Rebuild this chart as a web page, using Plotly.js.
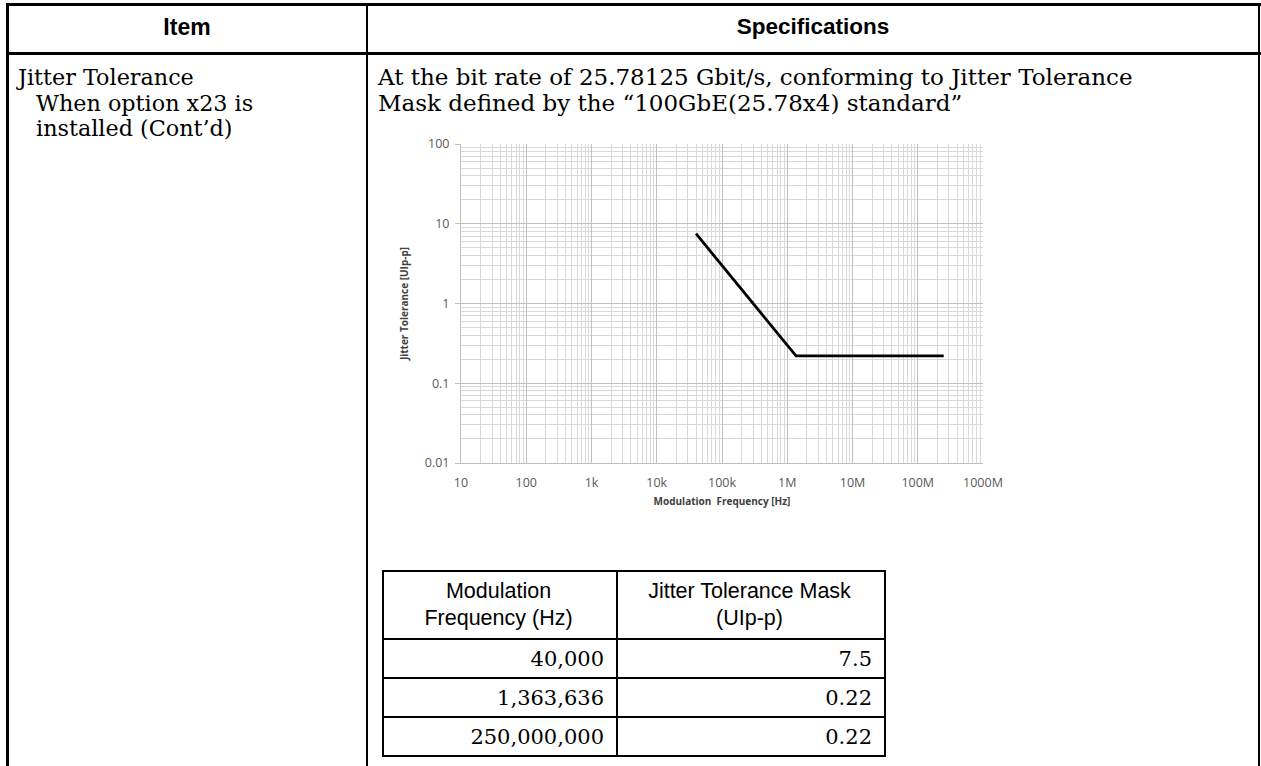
<!DOCTYPE html>
<html>
<head>
<meta charset="utf-8">
<script src="https://cdn.plot.ly/plotly-3.0.1.min.js"></script>
<style>
  html, body { margin:0; padding:0; background:#fff; }
  body { width:1261px; height:766px; position:relative; overflow:hidden; }
  .hl { position:absolute; background:#000; }
  .t { position:absolute; white-space:nowrap; color:#000; line-height:26px; }
  .serif { font-family:"DejaVu Serif", serif; font-size:23px; }
  .sans { font-family:"Liberation Sans", Arial, sans-serif; }
  #chart { position:absolute; left:380px; top:130px; width:660px; height:420px; }
  #mask { position:absolute; left:382px; top:570px; border-collapse:collapse; }
  #mask td { border:2px solid #000; padding:0 12px 0 9px; }
</style>
</head>
<body>
<!-- outer table lines -->
<div class="hl" style="left:6px;top:3px;width:1255px;height:3px"></div>
<div class="hl" style="left:6px;top:52px;width:1255px;height:3px"></div>
<div class="hl" style="left:6px;top:3px;width:3px;height:763px"></div>
<div class="hl" style="left:366px;top:3px;width:2px;height:763px"></div>
<div class="hl" style="left:1258px;top:3px;width:2px;height:763px"></div>

<div class="t sans" style="left:7px;width:360px;top:14px;text-align:center;font-weight:bold;font-size:23px">Item</div>
<div class="t sans" style="left:368px;width:890px;top:14px;text-align:center;font-weight:bold;font-size:22.5px">Specifications</div>

<div class="t serif" style="left:18px;top:64px;font-size:22.3px">Jitter Tolerance</div>
<div class="t serif" style="left:36px;top:90px;font-size:22.3px">When option x23 is</div>
<div class="t serif" style="left:36px;top:115px;font-size:22.3px">installed (Cont’d)</div>

<div class="t serif" style="left:378px;top:64px">At the bit rate of 25.78125 Gbit/s, conforming to Jitter Tolerance</div>
<div class="t serif" style="left:378px;top:90px">Mask defined by the “100GbE(25.78x4) standard”</div>

<div id="chart"></div>
<table id="mask"></table>

<script>
// ---- data ----
var freqHz = [40000, 1363636, 250000000];
var jitterUI = [7.5, 0.22, 0.22];
var xTickVals = [10, 100, 1000, 10000, 100000, 1000000, 10000000, 100000000, 1000000000];
var xTickText = ["10", "100", "1k", "10k", "100k", "1M", "10M", "100M", "1000M"];
var yTickVals = [0.01, 0.1, 1, 10, 100];
var yTickText = ["0.01", "0.1", "1", "10", "100"];
var tableHead = [["Modulation", "Frequency (Hz)"], ["Jitter Tolerance Mask", "(UIp-p)"]];

// minor grid positions (2..9 per decade)
function minors(vals) {
  var out = [];
  for (var i = 0; i < vals.length - 1; i++)
    for (var k = 2; k <= 9; k++) out.push(vals[i] * k);
  return out;
}

var trace = {
  x: freqHz, y: jitterUI, type: 'scatter', mode: 'lines',
  line: { color: '#000', width: 2.8 }, hoverinfo: 'skip'
};

var axisFont = { family: 'Open Sans, sans-serif', size: 12.5, color: '#595959' };
var layout = {
  width: 660, height: 420,
  margin: { l: 81, r: 57, t: 14, b: 87 },
  paper_bgcolor: 'rgba(0,0,0,0)', plot_bgcolor: '#fff',
  showlegend: false,
  xaxis: {
    type: 'log', range: [1, 9],
    tickmode: 'array', tickvals: xTickVals, ticktext: xTickText,
    tickfont: axisFont, ticks: '', ticklabelstandoff: 8, ticklabeloverflow: 'allow',
    showgrid: true, gridcolor: '#c0c0c0', gridwidth: 1,
    minor: { tickmode: 'array', tickvals: minors(xTickVals), showgrid: true, gridcolor: '#d9d9d9', gridwidth: 1, ticks: '' },
    showline: true, linecolor: '#bfbfbf', linewidth: 1, mirror: false, zeroline: false,
    title: { text: '<b>Modulation  Frequency [Hz]</b>', font: { family: 'Open Sans, sans-serif', size: 10, color: '#404040' }, standoff: 7 }
  },
  yaxis: {
    type: 'log', range: [-2, 2],
    tickmode: 'array', tickvals: yTickVals, ticktext: yTickText,
    tickfont: axisFont, ticks: 'outside', ticklen: 5, tickcolor: '#bfbfbf', ticklabelstandoff: 3,
    showgrid: true, gridcolor: '#c0c0c0', gridwidth: 1,
    minor: { tickmode: 'array', tickvals: minors(yTickVals), showgrid: true, gridcolor: '#d9d9d9', gridwidth: 1, ticks: '' },
    showline: true, linecolor: '#bfbfbf', linewidth: 1, zeroline: false,
    title: { text: '<b>Jitter Tolerance [UIp-p]</b>', font: { family: 'Open Sans, sans-serif', size: 10, color: '#404040' }, standoff: 14 }
  }
};
Plotly.newPlot('chart', [trace], layout, { staticPlot: true, displayModeBar: false });

// ---- mask table built from the same arrays ----
var tbl = document.getElementById('mask');
var hr = document.createElement('tr');
tableHead.forEach(function (h, i) {
  var td = document.createElement('td');
  td.innerHTML = h.join('<br>');
  td.style.cssText = 'font-family:"Liberation Sans",Arial,sans-serif;font-size:21.5px;text-align:center;height:66px;line-height:27px;width:' + (i === 0 ? 211 : 245) + 'px';
  hr.appendChild(td);
});
tbl.appendChild(hr);
for (var r = 0; r < freqHz.length; r++) {
  var tr = document.createElement('tr');
  [freqHz[r].toLocaleString('en-US'), String(jitterUI[r])].forEach(function (v) {
    var td = document.createElement('td');
    td.textContent = v;
    td.style.cssText = 'font-family:"DejaVu Serif",serif;font-size:21px;text-align:right;height:37px;';
    tr.appendChild(td);
  });
  tbl.appendChild(tr);
}
</script>
</body>
</html>
